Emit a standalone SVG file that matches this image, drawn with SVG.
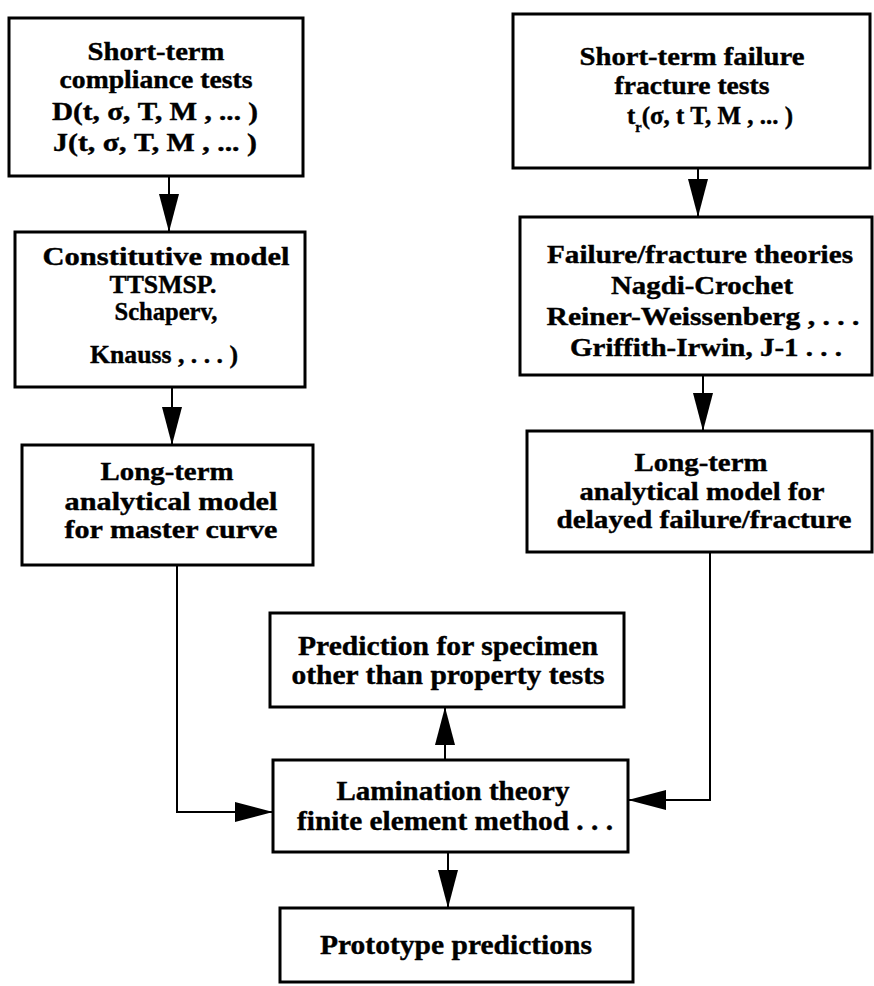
<svg xmlns="http://www.w3.org/2000/svg" width="874" height="986" viewBox="0 0 874 986">
<style>
  .box { fill: #fff; stroke: #000; stroke-width: 3; }
  .t { font-family: "Liberation Serif", "Times New Roman", serif; font-weight: bold; font-size: 26px; fill: #000; stroke: #000; stroke-width: 0.4; text-anchor: middle; }
  .tb { font-size: 28px; }
  .c { fill: none; stroke: #000; stroke-width: 2; }
</style>
<defs>
  <marker id="ah" markerUnits="userSpaceOnUse" viewBox="0 0 38 20" refX="38" refY="10" markerWidth="38" markerHeight="20" orient="auto">
    <path d="M0,0 L38,10 L0,20 z" fill="#000"/>
  </marker>
</defs>
<rect width="874" height="986" fill="#fff"/>

<g id="connectors">
  <line class="c" x1="169" y1="176" x2="169" y2="232" marker-end="url(#ah)"/>
  <line class="c" x1="172" y1="387" x2="172" y2="445" marker-end="url(#ah)"/>
  <line class="c" x1="698" y1="168" x2="698" y2="217" marker-end="url(#ah)"/>
  <line class="c" x1="703" y1="375" x2="703" y2="431" marker-end="url(#ah)"/>
  <path class="c" d="M177,565 V812 H273" marker-end="url(#ah)"/>
  <path class="c" d="M710,552 V800 H628" marker-end="url(#ah)"/>
  <line class="c" x1="445" y1="760" x2="445" y2="707" marker-end="url(#ah)"/>
  <line class="c" x1="448" y1="852" x2="448" y2="908" marker-end="url(#ah)"/>
</g>

<g id="short-term-compliance">
  <rect class="box" x="9" y="18" width="294" height="158"/>
  <text class="t" x="156" y="60" textLength="137" lengthAdjust="spacingAndGlyphs">Short-term</text>
  <text class="t" x="156" y="88" textLength="193" lengthAdjust="spacingAndGlyphs">compliance tests</text>
  <text class="t" x="155" y="120" textLength="206" lengthAdjust="spacingAndGlyphs">D(t, σ, T, M , ... )</text>
  <text class="t" x="155" y="151" textLength="204" lengthAdjust="spacingAndGlyphs">J(t, σ, T, M , ... )</text>
</g>

<g id="constitutive-model">
  <rect class="box" x="15" y="232" width="290" height="155"/>
  <text class="t" x="166" y="265" textLength="247" lengthAdjust="spacingAndGlyphs">Constitutive model</text>
  <text class="t" x="163" y="293" textLength="107" lengthAdjust="spacingAndGlyphs">TTSMSP.</text>
  <text class="t" x="166" y="320" textLength="103" lengthAdjust="spacingAndGlyphs">Schaperv,</text>
  <text class="t" x="164" y="363" textLength="148" lengthAdjust="spacingAndGlyphs">Knauss , . . . )</text>
</g>

<g id="long-term-master">
  <rect class="box" x="22" y="445" width="291" height="120"/>
  <text class="t" x="167" y="480" textLength="133" lengthAdjust="spacingAndGlyphs">Long-term</text>
  <text class="t" x="171" y="510" textLength="213" lengthAdjust="spacingAndGlyphs">analytical model</text>
  <text class="t" x="171" y="538" textLength="213" lengthAdjust="spacingAndGlyphs">for master curve</text>
</g>

<g id="short-term-failure">
  <rect class="box" x="513" y="14" width="357" height="154"/>
  <text class="t" x="692" y="65" textLength="225" lengthAdjust="spacingAndGlyphs">Short-term failure</text>
  <text class="t" x="692" y="94" textLength="155" lengthAdjust="spacingAndGlyphs">fracture tests</text>
  <text class="t" x="710" y="124" textLength="166" lengthAdjust="spacingAndGlyphs">t<tspan font-size="15" baseline-shift="sub">r</tspan>(σ, t T, M , ... )</text>
</g>

<g id="failure-theories">
  <rect class="box" x="520" y="217" width="352" height="158"/>
  <text class="t" x="700" y="263" textLength="306" lengthAdjust="spacingAndGlyphs">Failure/fracture theories</text>
  <text class="t" x="702" y="294" textLength="182" lengthAdjust="spacingAndGlyphs">Nagdi-Crochet</text>
  <text class="t" x="703" y="325" textLength="313" lengthAdjust="spacingAndGlyphs">Reiner-Weissenberg , . . .</text>
  <text class="t" x="706" y="356" textLength="272" lengthAdjust="spacingAndGlyphs">Griffith-Irwin, J-1 . . .</text>
</g>

<g id="long-term-delayed">
  <rect class="box" x="527" y="431" width="345" height="121"/>
  <text class="t" x="701" y="471" textLength="133" lengthAdjust="spacingAndGlyphs">Long-term</text>
  <text class="t" x="702" y="500" textLength="245" lengthAdjust="spacingAndGlyphs">analytical model for</text>
  <text class="t" x="704" y="528" textLength="295" lengthAdjust="spacingAndGlyphs">delayed failure/fracture</text>
</g>

<g id="prediction-specimen">
  <rect class="box" x="270" y="613" width="354" height="94"/>
  <text class="t tb" x="448" y="655" textLength="300" lengthAdjust="spacingAndGlyphs">Prediction for specimen</text>
  <text class="t tb" x="448" y="684" textLength="313" lengthAdjust="spacingAndGlyphs">other than property tests</text>
</g>

<g id="lamination-theory">
  <rect class="box" x="273" y="760" width="355" height="92"/>
  <text class="t tb" x="453" y="800" textLength="233" lengthAdjust="spacingAndGlyphs">Lamination theory</text>
  <text class="t tb" x="455" y="830" textLength="316" lengthAdjust="spacingAndGlyphs">finite element method . . .</text>
</g>

<g id="prototype-predictions">
  <rect class="box" x="280" y="908" width="353" height="74"/>
  <text class="t tb" x="456" y="954" textLength="272" lengthAdjust="spacingAndGlyphs">Prototype predictions</text>
</g>
</svg>
